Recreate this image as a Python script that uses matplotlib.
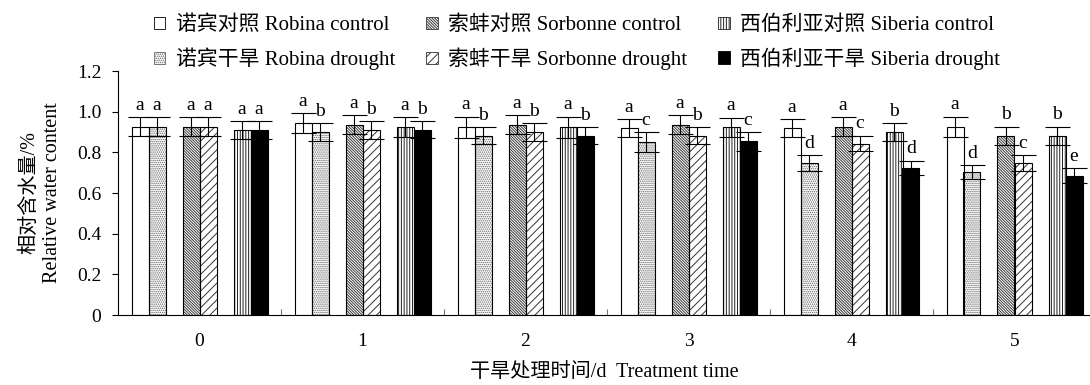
import matplotlib
matplotlib.use("Agg")
import matplotlib.pyplot as plt
from matplotlib.patches import Patch
from matplotlib.ticker import FuncFormatter
import numpy as np

plt.rcParams['font.family'] = ['Liberation Serif', 'Noto Sans CJK SC']
plt.rcParams['hatch.linewidth'] = 0.7

days = [0, 1, 2, 3, 4, 5]
tick_labels = ['0', '1', '2', '3', '4', '5']

series_names = ['诺宾对照 Robina control', '诺宾干旱 Robina drought',
                '索蚌对照 Sorbonne control', '索蚌干旱 Sorbonne drought',
                '西伯利亚对照 Siberia control', '西伯利亚干旱 Siberia drought']

robina_ctrl = [0.926, 0.943, 0.923, 0.918, 0.918, 0.925]
robina_drought = [0.926, 0.900, 0.881, 0.851, 0.748, 0.704]
sorbonne_ctrl = [0.926, 0.935, 0.935, 0.935, 0.925, 0.881]
sorbonne_drought = [0.926, 0.910, 0.899, 0.881, 0.843, 0.748]
siberia_ctrl = [0.910, 0.923, 0.923, 0.923, 0.899, 0.881]
siberia_drought = [0.910, 0.912, 0.882, 0.854, 0.724, 0.686]

robina_ctrl_err = [0.046, 0.049, 0.051, 0.044, 0.044, 0.049]
robina_drought_err = [0.046, 0.044, 0.042, 0.048, 0.038, 0.033]
sorbonne_ctrl_err = [0.046, 0.047, 0.047, 0.047, 0.047, 0.044]
sorbonne_drought_err = [0.046, 0.044, 0.044, 0.042, 0.038, 0.038]
siberia_ctrl_err = [0.042, 0.049, 0.051, 0.048, 0.045, 0.044]
siberia_drought_err = [0.042, 0.042, 0.041, 0.045, 0.034, 0.036]

robina_ctrl_sig = ['a', 'a', 'a', 'a', 'a', 'a']
robina_drought_sig = ['a', 'b', 'b', 'c', 'd', 'd']
sorbonne_ctrl_sig = ['a', 'a', 'a', 'a', 'a', 'b']
sorbonne_drought_sig = ['a', 'b', 'b', 'b', 'c', 'c']
siberia_ctrl_sig = ['a', 'a', 'a', 'a', 'b', 'b']
siberia_drought_sig = ['a', 'b', 'b', 'c', 'd', 'e']

values = [robina_ctrl, robina_drought, sorbonne_ctrl, sorbonne_drought, siberia_ctrl, siberia_drought]
errors = [robina_ctrl_err, robina_drought_err, sorbonne_ctrl_err, sorbonne_drought_err,
          siberia_ctrl_err, siberia_drought_err]
letters = [robina_ctrl_sig, robina_drought_sig, sorbonne_ctrl_sig, sorbonne_drought_sig,
           siberia_ctrl_sig, siberia_drought_sig]

# fill, hatch, hatch colour for each series
styles = [('white', None, 'black'),
          ('white', '........', '#666666'),
          ('white', '\\\\\\\\\\\\\\\\\\\\\\\\', '#3a3a3a'),
          ('white', '////', '#333333'),
          ('white', '||||||', '#222222'),
          ('black', None, 'black')]

fig = plt.figure(figsize=(10.9, 3.85), dpi=100)
ax = fig.add_axes([118 / 1090, 70 / 385, 972 / 1090, 244 / 385])

w = 17 / 163
offsets = np.array([-3.5, -2.5, -0.5, 0.5, 2.5, 3.5]) * w
x = np.arange(len(days))

for i in range(6):
    fc, hatch, hc = styles[i]
    pos = x + offsets[i]
    # hatch layer, then black outline on top
    ax.bar(pos, values[i], width=w, color=fc, hatch=hatch, edgecolor=hc, linewidth=0, zorder=2)
    ax.bar(pos, values[i], width=w, color='none', edgecolor='black', linewidth=0.8, zorder=3)
    ax.errorbar(pos, values[i], yerr=errors[i], fmt='none', ecolor='black',
                elinewidth=0.8, capsize=9, capthick=0.8, zorder=4)
    for xx, v, e, s in zip(pos, values[i], errors[i], letters[i]):
        ax.annotate(s, (xx, v + e), xytext=(0, 2.5), textcoords='offset points',
                    ha='center', va='bottom', fontsize=14)

ax.set_xlim(-0.5, -0.5 + 972 / 163)
ax.set_ylim(0, 1.2)
ax.spines['top'].set_visible(False)
ax.spines['right'].set_visible(False)
ax.spines['left'].set_linewidth(0.8)
ax.spines['bottom'].set_linewidth(0.8)

ax.set_yticks([0, 0.2, 0.4, 0.6, 0.8, 1.0, 1.2])
ax.yaxis.set_major_formatter(FuncFormatter(lambda v, p: '0' if v == 0 else '%.1f' % v))
ax.tick_params(axis='y', direction='out', length=4, width=0.8, pad=8, labelsize=14)

ax.set_xticks(x[:-1] + 0.5)
ax.set_xticklabels([])
ax.tick_params(axis='x', which='major', direction='in', length=4, width=0.8, color='#777777')
ax.set_xticks(x, minor=True)
ax.set_xticklabels(tick_labels, minor=True)
ax.tick_params(axis='x', which='minor', length=0, pad=13, labelsize=14)

ax.set_xlabel('干旱处理时间/d  Treatment time', fontsize=14.5, labelpad=9)
ax.set_ylabel('相对含水量/%\nRelative water content', fontsize=14.5, labelpad=11, linespacing=1.25)

handles = [Patch(facecolor=styles[i][0], hatch=styles[i][1], edgecolor=styles[i][2] if i not in (0, 5) else 'black',
                 linewidth=0.6) for i in range(6)]
fig.legend(handles, series_names, ncol=3, loc='upper left', bbox_to_anchor=(138 / 1090, 1.0),
           frameon=False, fontsize=15, handlelength=0.55, handleheight=0.55, handletextpad=0.5,
           columnspacing=1.5, labelspacing=0.6, borderaxespad=0.35)

fig.savefig('out.png', dpi=100)
